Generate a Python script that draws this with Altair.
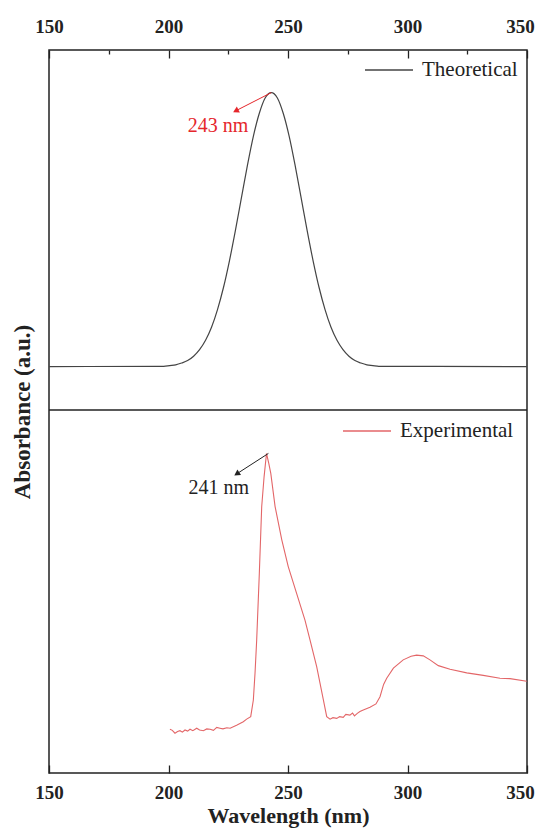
import math
import altair as alt
import pandas as pd

# ---------------- data ----------------
# Upper panel: theoretical spectrum (arbitrary units, upper half of a 0-200 stacked axis)
theo_nm = [150, 195.5, 198, 200.5, 203, 205.5, 208, 210.5, 213, 215.5, 218, 220.5, 223,
           225.5, 228, 230.5, 233, 235.5, 238, 240.5, 243, 245.5, 248, 250.5, 253, 255.5,
           258, 260.5, 263, 265.5, 268, 270.5, 273, 275.5, 278, 280.5, 283, 285.5, 288,
           290.5, 350]
theo_abs = [112.4, 112.5, 112.5, 112.7, 112.9, 113.4, 114.1, 115.3, 117.1, 119.7, 123.3,
            128.2, 134.3, 141.7, 150.1, 159.1, 168.0, 176.1, 182.5, 186.8, 188.2, 186.8,
            182.5, 176.1, 168.0, 159.1, 150.1, 141.7, 134.3, 128.2, 123.3, 119.7, 117.1,
            115.3, 114.1, 113.4, 112.9, 112.7, 112.5, 112.5, 112.4]

# Lower panel: experimental spectrum
exp_nm = [200.6, 201.6, 202.7, 203.8, 204.8, 205.8, 206.9, 208.0, 209.0, 210.2, 211.8,
          213.0, 214.6, 216.0, 217.4, 218.8, 220.2, 221.5, 222.8, 224.4, 225.8, 227.1,
          228.5, 229.9, 231.3, 232.7, 234.4, 235.5, 236.2, 236.9, 238.0, 239.0, 240.0,
          241.0, 242.0, 242.8, 244.6, 247.4, 250.1, 253.6, 257.1, 259.2, 262.0, 264.8,
          266.2, 267.6, 268.8, 270.4, 271.6, 273.1, 274.2, 275.9, 277.0, 277.8, 279.0,
          280.1, 281.5, 284.3, 286.8, 288.5, 290.0, 291.3, 294.1, 298.2, 301.5, 303.8,
          306.6, 309.4, 312.9, 317.8, 324.8, 331.7, 338.7, 342.9, 349.9]
exp_abs = [12.1, 11.8, 11.0, 11.5, 11.7, 11.3, 11.9, 11.6, 12.1, 11.7, 12.4,
           11.9, 11.7, 12.2, 12.1, 11.8, 12.6, 12.4, 12.2, 12.5, 12.4, 12.8,
           13.2, 13.7, 14.2, 14.9, 15.6, 20.2, 27.6, 36.8, 55.2, 73.7, 82.0,
           88.4, 85.5, 82.9, 73.7, 64.5, 57.1, 49.7, 42.3, 36.8, 29.4, 20.2,
           15.6, 14.9, 15.3, 15.1, 15.6, 15.4, 16.2, 16.0, 16.6, 15.8, 16.5,
           17.0, 17.4, 18.2, 19.1, 21.1, 24.5, 26.2, 29.0, 31.3, 32.3, 32.6,
           32.4, 31.3, 29.7, 28.7, 27.7, 27.0, 26.2, 26.1, 25.4]

series_names = ["Theoretical", "Experimental"]
tick_major = [150, 200, 250, 300, 350]
tick_minor = [175, 225, 275, 325]
panel_divider = [100.4]

# peak annotations: arrow start (peak), arrow head, label position
peak_text = ["243 nm", "241 nm"]
arrow_x0 = [243.0, 241.8]
arrow_y0 = [188.2, 88.4]
arrow_x1 = [228.5, 228.9]
arrow_y1 = [183.3, 82.9]
label_x = [220.7, 221.0]
label_y = [179.0, 78.9]
annot_color = ["#e5262b", "#222222"]

# ---------------- layout / style ----------------
W, H = 478, 723
XDOM, YDOM = [150, 350], [0, 200]
FONT = "Liberation Serif"
INK = "#222222"

px_x = W / (XDOM[1] - XDOM[0])
px_y = H / (YDOM[1] - YDOM[0])
angles = []
for a, b, c, d in zip(arrow_x0, arrow_y0, arrow_x1, arrow_y1):
    dx = (c - a) * px_x
    dy = -(d - b) * px_y
    angles.append((math.degrees(math.atan2(dy, dx)) + 90) % 360)

df_theo = pd.DataFrame({"nm": theo_nm, "abs": theo_abs, "series": series_names[0]})
df_exp = pd.DataFrame({"nm": exp_nm, "abs": exp_abs, "series": series_names[1]})
df_ann = pd.DataFrame({"x0": arrow_x0, "y0": arrow_y0, "x1": arrow_x1, "y1": arrow_y1,
                       "lx": label_x, "ly": label_y, "text": peak_text,
                       "col": annot_color, "ang": angles})
df_div = pd.DataFrame({"y": panel_divider})

XS = alt.Scale(domain=XDOM, nice=False, zero=False)
YS = alt.Scale(domain=YDOM, nice=False, zero=False)

# keep the right-most label inside the page
edge_shift = alt.condition(f"datum.value == {XDOM[1]}", alt.value(-7), alt.value(0))

common_axis = dict(domain=False, grid=False, labelFlush=False, labelOverlap=False,
                   labelFont=FONT, labelFontSize=19, labelFontWeight="bold",
                   labelColor=INK, tickColor=INK, tickWidth=1.3, labelOffset=edge_shift)

legend_common = dict(orient="none", title=None, symbolType="stroke", symbolSize=2304,
                     symbolStrokeWidth=1.3, labelFont=FONT, labelFontSize=21,
                     labelColor=INK, labelOffset=8, padding=0)

theo = alt.Chart(df_theo).mark_line(strokeWidth=1.2, interpolate="monotone").encode(
    x=alt.X("nm:Q", scale=XS, axis=alt.Axis(orient="bottom", values=tick_major,
            title="Wavelength (nm)", tickSize=8, offset=-8, labelPadding=10,
            titleFont=FONT, titleFontSize=22, titleFontWeight="bold", titleColor=INK,
            titlePadding=3, **common_axis)),
    y=alt.Y("abs:Q", scale=YS, axis=alt.Axis(title="Absorbance (a.u.)", labels=False,
            ticks=False, domain=False, grid=False, titleFont=FONT, titleFontSize=23,
            titleFontWeight="bold", titleColor=INK, titlePadding=15)),
    color=alt.Color("series:N", scale=alt.Scale(domain=[series_names[0]], range=["#444444"]),
                    legend=alt.Legend(legendX=315, legendY=-5, **legend_common)),
)

exp = alt.Chart(df_exp).mark_line(strokeWidth=1.1).encode(
    x=alt.X("nm:Q", scale=XS, axis=alt.Axis(orient="top", values=tick_major, title=None,
            tickSize=8, offset=-8, labelPadding=14, **common_axis)),
    y=alt.Y("abs:Q", scale=YS, axis=None),
    color=alt.Color("series:N", scale=alt.Scale(domain=[series_names[1]], range=["#e36668"]),
                    legend=alt.Legend(legendX=293, legendY=356, **legend_common)),
)

divider = alt.Chart(df_div).mark_rule(color=INK, strokeWidth=1.5).encode(
    y=alt.Y("y:Q", scale=YS, axis=None)
)

arrows = alt.Chart(df_ann).mark_rule(strokeWidth=1).encode(
    x=alt.X("x0:Q", scale=XS, axis=alt.Axis(orient="top", values=tick_minor, title=None,
            labels=False, tickSize=4, offset=-4, domain=False, grid=False,
            tickColor=INK, tickWidth=1.3)),
    y=alt.Y("y0:Q", scale=YS, axis=None),
    x2="x1:Q", y2="y1:Q",
    color=alt.Color("col:N", scale=None),
)

heads = alt.Chart(df_ann).mark_point(shape="triangle", filled=True, size=45, opacity=1).encode(
    x=alt.X("x1:Q", scale=XS, axis=None),
    y=alt.Y("y1:Q", scale=YS, axis=None),
    angle=alt.Angle("ang:Q", scale=None),
    color=alt.Color("col:N", scale=None),
)

labels = alt.Chart(df_ann).mark_text(font=FONT, fontSize=20).encode(
    x=alt.X("lx:Q", scale=XS, axis=None),
    y=alt.Y("ly:Q", scale=YS, axis=None),
    text="text:N",
    color=alt.Color("col:N", scale=None),
)

chart = alt.layer(theo, exp, divider, arrows, heads, labels).resolve_scale(
    color="independent"
).resolve_axis(x="independent", y="independent").properties(
    width=W, height=H,
    autosize=alt.AutoSizeParams(type="none"),
    padding={"left": 41, "top": 42, "right": 8, "bottom": 58},
    background="white",
).configure_view(stroke=INK, strokeWidth=1.5)

chart.save("out.html", embed_options={"renderer": "svg", "actions": False})
